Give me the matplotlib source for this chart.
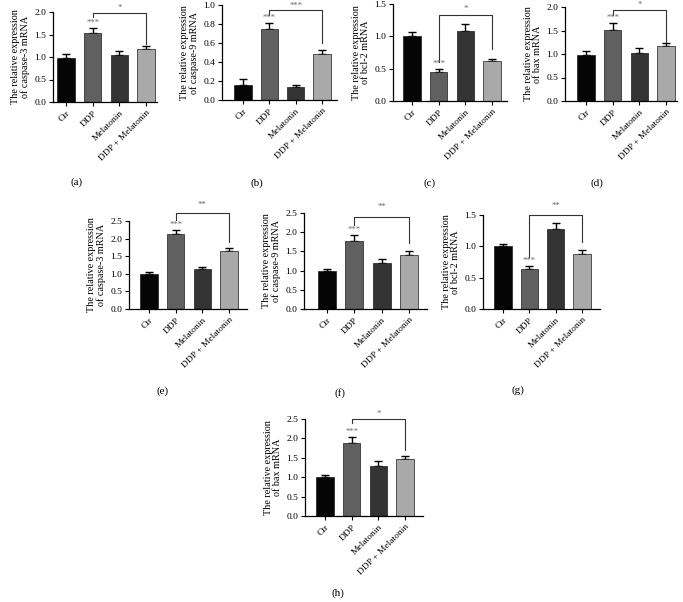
import numpy as np
import matplotlib
matplotlib.use("Agg")
import matplotlib.pyplot as plt

plt.rcParams['font.family'] = ['Liberation Serif', 'DejaVu Serif']

groups = ["Ctr", "DDP", "Melatonin", "DDP + Melatonin"]
bar_colors = ['#050505', '#606060', '#343434', '#a9a9a9']

# panel values (mean, upper error)
mean_a = [0.98, 1.53, 1.04, 1.18]
err_a = [0.09, 0.12, 0.09, 0.06]
mean_b = [0.16, 0.75, 0.14, 0.48]
err_b = [0.06, 0.06, 0.02, 0.05]
mean_c = [1.00, 0.45, 1.08, 0.62]
err_c = [0.06, 0.04, 0.11, 0.03]
mean_d = [0.98, 1.51, 1.03, 1.18]
err_d = [0.09, 0.14, 0.10, 0.06]
mean_e = [0.99, 2.12, 1.14, 1.65]
err_e = [0.07, 0.12, 0.05, 0.09]
mean_f = [1.00, 1.78, 1.21, 1.40]
err_f = [0.04, 0.14, 0.08, 0.10]
mean_g = [1.00, 0.64, 1.28, 0.87]
err_g = [0.04, 0.04, 0.09, 0.07]
mean_h = [1.00, 1.89, 1.30, 1.47]
err_h = [0.06, 0.15, 0.11, 0.07]

ylabels = ["The relative expression\nof caspase-3 mRNA",
           "The relative expression\nof caspase-9 mRNA",
           "The relative expression\nof bcl-2 mRNA",
           "The relative expression\nof bax mRNA"]

# bracket DDP vs DDP + Melatonin: (left leg end, top, right leg end, label y, label)
brk_a = (1.90, 1.97, 1.30, 2.09, '*')
brk_b = (0.90, 0.95, 0.60, 0.99, '***')
brk_c = (0.60, 1.33, 0.80, 1.42, '*')
brk_d = (1.83, 1.94, 1.26, 2.05, '*')
brk_e = (2.53, 2.73, 1.90, 2.95, '**')
brk_f = (2.19, 2.40, 1.72, 2.65, '**')
brk_g = (0.83, 1.50, 1.07, 1.64, '**')
brk_h = (2.40, 2.50, 1.70, 2.63, '*')

W, H = 683, 602
fig = plt.figure(figsize=(W / 100, H / 100), dpi=100)


def add_panel(L, R, T, B, c0, c3, ymax, ystep, means, errs, ylab, brk, cap, cap_xy):
    ax = fig.add_axes([L / W, (H - B) / H, (R - L) / W, (B - T) / H])
    sp = (c3 - c0) / 3
    x = np.arange(4)
    ax.bar(x, means, width=0.65, color=bar_colors, edgecolor='#1a1a1a', linewidth=0.5, zorder=2)
    ax.errorbar(x, means, yerr=[np.zeros(4), errs], fmt='none', ecolor='black',
                elinewidth=1.0, capsize=3.2, capthick=1.0, zorder=1)
    ax.set_xlim(-(c0 - L) / sp, 3 + (R - c3) / sp)
    ax.set_ylim(0, ymax)
    ticks = np.arange(0, ymax + 1e-6, ystep)
    ax.set_yticks(ticks)
    ax.set_yticklabels([f"{v:.1f}" for v in ticks])
    ax.set_xticks(x)
    ax.set_xticklabels(groups, rotation=45, ha='right', rotation_mode='anchor')
    ax.tick_params(labelsize=6.8, length=3, width=0.8, pad=2)
    for s in ['top', 'right']:
        ax.spines[s].set_visible(False)
    for s in ['left', 'bottom']:
        ax.spines[s].set_linewidth(0.9)
    ax.set_ylabel(ylab, fontsize=7.3, labelpad=3, linespacing=1.0)
    # *** over DDP
    ax.text(1, means[1] + errs[1] + ymax * 0.015, '***', ha='center', va='bottom',
            fontsize=6.2, color='#666666')
    left, top, right, ly, lab = brk
    ax.plot([1, 1, 3, 3], [left, top, top, right], color='#333333', lw=0.8, clip_on=False)
    ax.text(2, ly, lab, ha='center', va='center', fontsize=6.2, color='#666666', clip_on=False)
    fig.text(cap_xy[0] / W, 1 - cap_xy[1] / H, cap, ha='center', va='center', fontsize=8)
    return ax


add_panel(53, 157, 12, 102, 66, 146, 2.0, 0.5, mean_a, err_a, ylabels[0], brk_a, '(a)', (77, 182))
add_panel(222, 337, 5, 100, 243, 322, 1.0, 0.2, mean_b, err_b, ylabels[1], brk_b, '(b)', (257, 183))
add_panel(393, 507, 4, 101, 412, 492, 1.5, 0.5, mean_c, err_c, ylabels[2], brk_c, '(c)', (430, 183))
add_panel(565, 677, 7, 101, 586, 666, 2.0, 0.5, mean_d, err_d, ylabels[3], brk_d, '(d)', (597, 183))
add_panel(129, 247, 221, 309, 149, 229, 2.5, 0.5, mean_e, err_e, ylabels[0], brk_e, '(e)', (163, 391))
add_panel(304, 427, 213, 309, 327, 409, 2.5, 0.5, mean_f, err_f, ylabels[1], brk_f, '(f)', (340, 393))
add_panel(483, 600, 215, 309, 503, 582, 1.5, 0.5, mean_g, err_g, ylabels[2], brk_g, '(g)', (518, 390))
add_panel(305, 423, 419, 516, 325, 405, 2.5, 0.5, mean_h, err_h, ylabels[3], brk_h, '(h)', (338, 593))

fig.savefig("out.png", dpi=100)
